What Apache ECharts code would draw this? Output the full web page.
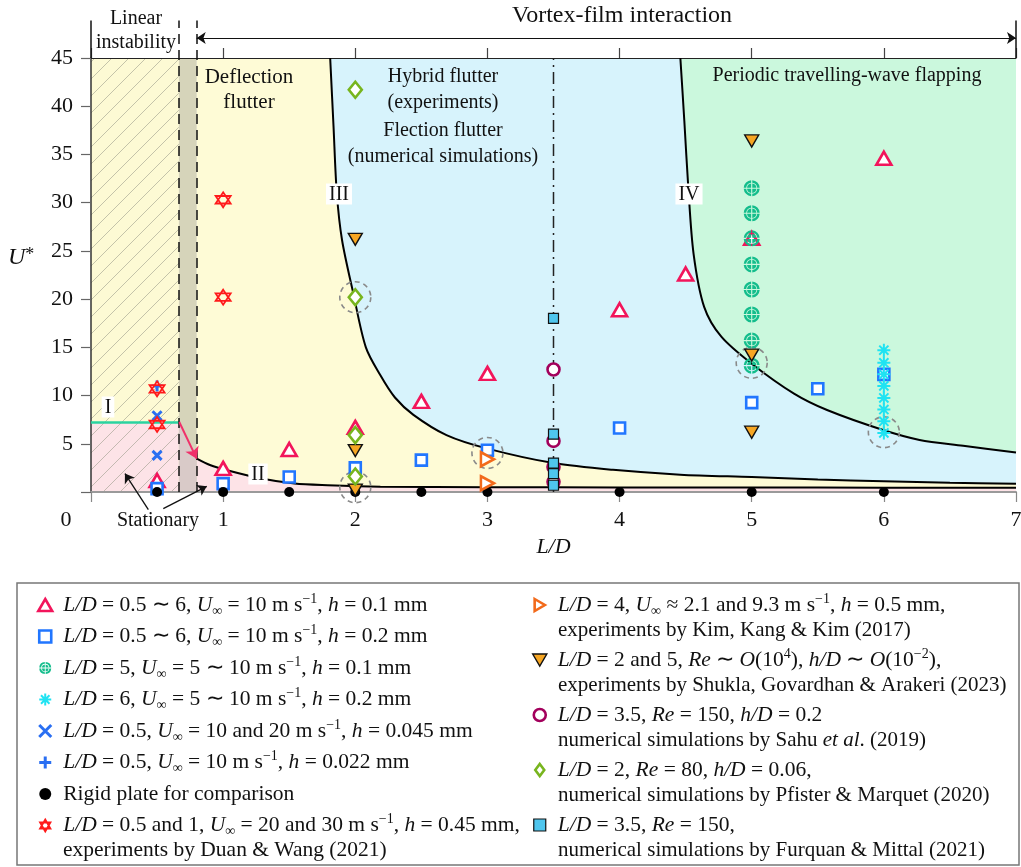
<!DOCTYPE html>
<html><head><meta charset="utf-8">
<script src="https://cdn.jsdelivr.net/npm/echarts/dist/echarts.min.js"></script>
<style>html,body{margin:0;padding:0;background:#fff}#c{width:1021px;height:867px}</style>
</head><body><div id="c"></div>
<script>
// ---------------- data ----------------
const triLD = [0.5, 1, 1.5, 2, 2.5, 3, 4, 4.5, 5, 6];
const triU  = [1.2, 2.45, 4.4, 6.7, 9.4, 12.3, 18.9, 22.6, 26.3, 34.6];
const sqLD = [0.5, 1, 1.5, 2, 2.5, 3, 4, 5, 5.5, 6];
const sqU  = [0.35, 0.87, 1.56, 2.5, 3.3, 4.33, 6.64, 9.27, 10.7, 12.2];
const opLD = [5, 5, 5, 5, 5, 5, 5, 5];
const opU  = [31.5, 28.9, 26.3, 23.6, 21.0, 18.4, 15.7, 13.1];
const astLD = [6, 6, 6, 6, 6, 6, 6, 6];
const astU  = [14.7, 13.4, 12.2, 11.0, 9.75, 8.55, 7.33, 6.12];
const xLD = [0.5, 0.5];
const xU  = [7.9, 3.8];
const plusLD = [0.5];
const plusU  = [11.0];
const rigidLD = [0.5, 1, 1.5, 2, 2.5, 3, 4, 5, 6];
const rigidU  = [0, 0, 0, 0, 0, 0, 0, 0, 0];
const duanLD = [0.5, 0.5, 1, 1];
const duanU  = [10.7, 7.0, 30.3, 20.2];
const kimLD = [3, 3];
const kimU  = [3.4, 0.9];
const shuklaLD = [2, 2, 2, 5, 5, 5];
const shuklaU  = [26.2, 4.3, 0.2, 36.4, 14.2, 6.2];
const sahuLD = [3.5, 3.5, 3.5, 3.5];
const sahuU  = [12.7, 5.3, 2.6, 1.05];
const pfisterLD = [2, 2, 2, 2];
const pfisterU  = [41.7, 20.2, 5.9, 1.6];
const furquanLD = [3.5, 3.5, 3.5, 3.5, 3.5];
const furquanU  = [18.0, 6.0, 3.0, 1.9, 0.7];
const ringLD = [2, 2, 3, 5, 6];
const ringU  = [20.2, 0.5, 4.05, 13.4, 6.2];

// boundary curves
const curveIILD  = [0.8, 0.9, 1.03, 1.29, 1.54, 1.79, 2.19, 3, 4, 5, 6, 7];
const curveIIU   = [3.46, 2.8, 2.25, 1.39, 0.87, 0.7, 0.55, 0.5, 0.47, 0.46, 0.45, 0.45];
const curveIIILD = [1.81, 1.835, 1.86, 1.9, 1.985, 2.08, 2.19, 2.3, 2.44, 2.69, 3.0, 3.5, 3.95, 4.46, 5, 5.5, 6, 6.5, 7];
const curveIIIU  = [45, 38, 31, 26.1, 20.6, 15.0, 12.1, 9.8, 8.0, 5.9, 4.5, 3.0, 2.3, 1.8, 1.55, 1.3, 1.12, 0.97, 0.85];
const curveIVLD  = [4.46, 4.49, 4.52, 4.56, 4.64, 4.77, 5.0, 5.32, 5.57, 6.0, 6.27, 6.6, 7];
const curveIVU   = [45, 38.5, 31.6, 24.7, 19.2, 16.1, 13.3, 10.2, 8.5, 6.4, 5.4, 4.8, 4.1];

// region limits
const linearLD = [0, 0.665];
const bandLD = [0.665, 0.8];
const flutterLD = [0.8, 7];
const topU = [45, 45];
const stationaryU = [7.2, 7.2];
const bandLowU = [7.2, 3.46];

// annotations
const dashedLD = [0.665, 0.8];
const bracketLD = [0, 7];
const bracketU = [45, 48.9];
const arrowU = 47.07;
const dashDotLD = 3.5;
const statFrom = [[0.434, -1.83], [0.547, -1.72]];
const statTo   = [[0.257, 1.91], [0.876, 0.59]];
const redArrow = [[0.668, 7.26], [0.8, 3.46]];

// tick labels
const xTicks = [0, 1, 2, 3, 4, 5, 6, 7];
const yTicks = [0, 5, 10, 15, 20, 25, 30, 35, 40, 45];

const names = [
  'L/D = 0.5 ∼ 6, U∞ = 10 m s−1, h = 0.1 mm',
  'L/D = 0.5 ∼ 6, U∞ = 10 m s−1, h = 0.2 mm',
  'L/D = 5, U∞ = 5 ∼ 10 m s−1, h = 0.1 mm',
  'L/D = 6, U∞ = 5 ∼ 10 m s−1, h = 0.2 mm',
  'L/D = 0.5, U∞ = 10 and 20 m s−1, h = 0.045 mm',
  'L/D = 0.5, U∞ = 10 m s−1, h = 0.022 mm',
  'Rigid plate for comparison',
  'L/D = 0.5 and 1, U∞ = 20 and 30 m s−1, h = 0.45 mm, Duan & Wang (2021)',
  'L/D = 4, U∞ ≈ 2.1 and 9.3 m s−1, h = 0.5 mm, Kim, Kang & Kim (2017)',
  'L/D = 2 and 5, Re ∼ O(10^4), h/D ∼ O(10^−2), Shukla, Govardhan & Arakeri (2023)',
  'L/D = 3.5, Re = 150, h/D = 0.2, Sahu et al. (2019)',
  'L/D = 2, Re = 80, h/D = 0.06, Pfister & Marquet (2020)',
  'L/D = 3.5, Re = 150, Furquan & Mittal (2021)'
];
const legendText = [
  '{i|L/D} = 0.5 ∼ 6, {i|U}{sub|∞} = 10 m s{sup|−1}, {i|h} = 0.1 mm',
  '{i|L/D} = 0.5 ∼ 6, {i|U}{sub|∞} = 10 m s{sup|−1}, {i|h} = 0.2 mm',
  '{i|L/D} = 5, {i|U}{sub|∞} = 5 ∼ 10 m s{sup|−1}, {i|h} = 0.1 mm',
  '{i|L/D} = 6, {i|U}{sub|∞} = 5 ∼ 10 m s{sup|−1}, {i|h} = 0.2 mm',
  '{i|L/D} = 0.5, {i|U}{sub|∞} = 10 and 20 m s{sup|−1}, {i|h} = 0.045 mm',
  '{i|L/D} = 0.5, {i|U}{sub|∞} = 10 m s{sup|−1}, {i|h} = 0.022 mm',
  'Rigid plate for comparison',
  '{i|L/D} = 0.5 and 1, {i|U}{sub|∞} = 20 and 30 m s{sup|−1}, {i|h} = 0.45 mm,',
  '{i|L/D} = 4, {i|U}{sub|∞} ≈ 2.1 and 9.3 m s{sup|−1}, {i|h} = 0.5 mm,',
  '{i|L/D} = 2 and 5, {i|Re} ∼ {i|O}(10{sup|4}), {i|h/D} ∼ {i|O}(10{sup|−2}),',
  '{i|L/D} = 3.5, {i|Re} = 150, {i|h/D} = 0.2',
  '{i|L/D} = 2, {i|Re} = 80, {i|h/D} = 0.06,',
  '{i|L/D} = 3.5, {i|Re} = 150,'
];
const secondLines = [
  'experiments by Duan & Wang (2021)',
  'experiments by Kim, Kang & Kim (2017)',
  'experiments by Shukla, Govardhan & Arakeri (2023)',
  'numerical simulations by Sahu {i|et al}. (2019)',
  'numerical simulations by Pfister & Marquet (2020)',
  'numerical simulations by Furquan & Mittal (2021)'
];

// ---------------- helpers ----------------
const FONT = '"Liberation Serif", "Times New Roman", serif';
const LFS = 21.5;
const SFS = 21;
const pts = (xs, ys) => xs.map((x, i) => [x, ys[i]]);

function oplusPath() {
  const R = 10, r1 = 6.9, r2 = 5.9, g = 0.7;
  const a = Math.sqrt(R*R - g*g), b = Math.sqrt(r1*r1 - g*g), c = Math.sqrt(r2*r2 - g*g);
  let p = '';
  [[1,-1],[1,1],[-1,1],[-1,-1]].forEach(([sx, sy]) => {
    const sw = (sx*sy < 0) ? 1 : 0;
    const f = (x, y) => (10 + sx*x).toFixed(3) + ',' + (10 + sy*y).toFixed(3);
    p += 'M' + f(g, a) + 'A' + R + ',' + R + ' 0 0 ' + sw + ' ' + f(a, g) + 'L' + f(b, g) +
         'A' + r1 + ',' + r1 + ' 0 0 ' + (1 - sw) + ' ' + f(g, b) + 'Z';
    p += 'M' + f(g, c) + 'A' + r2 + ',' + r2 + ' 0 0 ' + sw + ' ' + f(c, g) + 'L' + f(g, g) + 'Z';
  });
  return 'path://' + p;
}
const SYM_OPLUS = oplusPath();
const SYM_TRI = 'path://M10,0L20,17.3L0,17.3Z';
const SYM_RECT = 'path://M0,0L10,0L10,10L0,10Z';
const SYM_DIAM = 'path://M10,0L19,12L10,24L1,12Z';
const SYM_AST = 'path://M10,0L10,20M0,10L20,10M2.93,2.93L17.07,17.07M2.93,17.07L17.07,2.93';
const SYM_X = 'path://M0,0L10,10M0,10L10,0';
const SYM_PLUS = 'path://M5,0L5,10M0,5L10,5';
const SYM_HEX = 'path://M10,0L18.66,15L1.34,15ZM10,20L18.66,5L1.34,5Z';
const SYM_RTRI = 'path://M0,0L17,10L0,20Z';
const SYM_DTRI = 'path://M0,0L20,0L10,17Z';

const markerDefs = [
  {data: pts(triLD, triU), symbol: SYM_TRI, size: [15, 13], style: {color: '#fff', borderColor: '#f2155b', borderWidth: 2.6}},
  {data: pts(sqLD, sqU), symbol: SYM_RECT, size: 11, style: {color: '#fff', borderColor: '#2176ff', borderWidth: 2.6}},
  {data: pts(opLD, opU), symbol: SYM_OPLUS, size: 16, style: {color: '#14bd8c', borderWidth: 0}},
  {data: pts(astLD, astU), symbol: SYM_AST, size: 13, style: {color: '#1fe3f2', borderColor: '#1fe3f2', borderWidth: 2}},
  {data: pts(xLD, xU), symbol: SYM_X, size: 9, style: {color: '#2a6ff2', borderColor: '#2a6ff2', borderWidth: 3}},
  {data: pts(plusLD, plusU), symbol: SYM_PLUS, size: 11, style: {color: '#2a6ff2', borderColor: '#2a6ff2', borderWidth: 3}},
  {data: pts(rigidLD, rigidU), symbol: 'circle', size: 10, style: {color: '#000', borderWidth: 0}},
  {data: pts(duanLD, duanU), symbol: SYM_HEX, size: 15, style: {color: '#fff', borderColor: '#ff1a1a', borderWidth: 1.8}},
  {data: pts(kimLD, kimU), symbol: SYM_RTRI, size: [13, 14], style: {color: '#fff', borderColor: '#f26a1b', borderWidth: 2.6}},
  {data: pts(shuklaLD, shuklaU), symbol: SYM_DTRI, size: [14, 12], style: {color: '#f6a623', borderColor: '#111', borderWidth: 1.4}},
  {data: pts(sahuLD, sahuU), symbol: 'circle', size: 12, style: {color: '#fff', borderColor: '#a3005c', borderWidth: 2.6}},
  {data: pts(pfisterLD, pfisterU), symbol: SYM_DIAM, size: [13, 16], style: {color: '#fff', borderColor: '#78b51e', borderWidth: 2.6}},
  {data: pts(furquanLD, furquanU), symbol: SYM_RECT, size: 10, style: {color: '#4fc6ee', borderColor: '#111', borderWidth: 1.2}}
];

// hatch pattern
const hatch = document.createElement('canvas');
hatch.width = 17; hatch.height = 17;
(function () {
  const c = hatch.getContext('2d');
  c.strokeStyle = 'rgba(150,150,135,0.7)';
  c.lineWidth = 0.8;
  c.beginPath();
  c.moveTo(-1, 18); c.lineTo(18, -1);
  c.moveTo(-1, 1); c.lineTo(1, -1);
  c.moveTo(16, 18); c.lineTo(18, 16);
  c.stroke();
})();

function area(data, color, origin, smooth) {
  return {type: 'line', data, symbol: 'none', silent: true, z: 1, smooth: smooth || false,
    lineStyle: {width: 0, opacity: 0}, areaStyle: {color, opacity: 1, origin}, animation: false};
}
function curve(data, color, width, type, smooth) {
  return {type: 'line', data, symbol: 'none', silent: true, z: 3, smooth: smooth || false, clip: false,
    lineStyle: {color, width, type: type || 'solid'}, animation: false};
}
const SM = 0.3;

const series = [
  area(pts(flutterLD, topU), '#fefbd6', 'start'),
  area(pts(curveIIILD, curveIIIU), '#d7f3fc', 'end', SM),
  area(pts(curveIVLD, curveIVU), '#cbf8dd', 'end', SM),
  area(pts(curveIILD, curveIIU), '#fde3e7', 'start', SM),
  area(pts(linearLD, topU), '#fdfad4', 'start'),
  area(pts(linearLD, stationaryU), '#fde3e7', 'start'),
  area(pts(linearLD, topU), {image: hatch, repeat: 'repeat'}, 'start'),
  area(pts(bandLD, topU), '#d6d4ba', 'start'),
  area(pts(bandLD, bandLowU), '#d9cac8', 'start'),
  curve(pts(curveIILD, curveIIU), '#000', 2, 'solid', SM),
  curve(pts(curveIIILD, curveIIIU), '#000', 2, 'solid', SM),
  curve(pts(curveIVLD, curveIVU), '#000', 2, 'solid', SM),
  curve(pts(linearLD, stationaryU), '#2bd3a0', 2.5),
  curve([[dashDotLD, 0], [dashDotLD, 45]], '#222', 1.5, [12, 5, 2, 5]),
  {type: 'lines', coordinateSystem: 'cartesian2d', clip: false, z: 5, silent: true, symbol: 'none',
   lineStyle: {color: '#111', width: 1.5, opacity: 1},
   data: [
     {coords: [[bracketLD[0], bracketU[0]], [bracketLD[0], bracketU[1]]]},
     {coords: [[bracketLD[1], bracketU[0]], [bracketLD[1], bracketU[1]]]},
     {coords: [[dashedLD[0], 0], [dashedLD[0], bracketU[1]]], lineStyle: {type: [10, 6]}},
     {coords: [[dashedLD[1], 0], [dashedLD[1], bracketU[1]]], lineStyle: {type: [10, 6]}}
   ]},
  {type: 'lines', coordinateSystem: 'cartesian2d', clip: false, z: 5, silent: true,
   symbol: ['arrow', 'arrow'], symbolSize: 9, lineStyle: {color: '#111', width: 1.2, opacity: 1},
   data: [{coords: [[flutterLD[0], arrowU], [flutterLD[1], arrowU]]}]},
  {type: 'lines', coordinateSystem: 'cartesian2d', clip: false, z: 5, silent: true,
   symbol: ['none', 'arrow'], symbolSize: 9, lineStyle: {color: '#111', width: 1.3, opacity: 1},
   data: statFrom.map((f, i) => ({coords: [f, statTo[i]]}))},
  {type: 'lines', coordinateSystem: 'cartesian2d', clip: false, z: 5, silent: true,
   symbol: ['none', 'arrow'], symbolSize: 11, lineStyle: {color: '#f0306a', width: 2, opacity: 1},
   data: [{coords: redArrow}]},
  {type: 'scatter', data: pts(ringLD, ringU), symbol: 'circle', symbolSize: 31, z: 4, silent: true,
   itemStyle: {color: 'rgba(0,0,0,0)', borderColor: '#8a8a8a', borderWidth: 1.6, borderType: [5, 4], opacity: 1}}
];
markerDefs.forEach((m, i) => {
  series.push({type: 'scatter', name: names[i], data: m.data, symbol: m.symbol, symbolSize: m.size,
    z: 4 + i * 0.01, silent: true, itemStyle: Object.assign({opacity: 1}, m.style), animation: false});
});

const richDef = {
  i: {fontFamily: FONT, fontStyle: 'italic', fontSize: LFS, lineHeight: 26, color: '#111'},
  sub: {fontFamily: FONT, fontSize: 14, lineHeight: 15, verticalAlign: 'bottom', color: '#111'},
  sup: {fontFamily: FONT, fontSize: 14, lineHeight: 15, verticalAlign: 'top', color: '#111'}
};
function legendItems(from, to) {
  const out = [];
  for (let i = from; i < to; i++) {
    const m = markerDefs[i];
    out.push({name: names[i], icon: m.symbol, itemStyle: Object.assign({opacity: 1}, m.style)});
  }
  return out;
}
const legendBase = {
  orient: 'vertical', itemWidth: 26, itemHeight: 12, padding: 0, selectedMode: false,
  formatter: n => legendText[names.indexOf(n)],
  textStyle: {fontFamily: FONT, fontSize: LFS, color: '#111', lineHeight: 26, rich: richDef}
};

function txt(x, y, text, size, opts) {
  return Object.assign({type: 'text', x, y, z: 20, silent: true,
    style: Object.assign({text, fontFamily: FONT, fontSize: size, fill: '#111', align: 'center', verticalAlign: 'middle',
      rich: {i: {fontFamily: FONT, fontStyle: 'italic', fontSize: size, fill: '#111'},
             s: {fontFamily: FONT, fontSize: Math.round(size * 0.75), fill: '#111', verticalAlign: 'top', lineHeight: 14}}},
      (opts || {}))});
}
const boxed = {backgroundColor: '#fff', padding: [1, 3, 0, 3]};

const graphic = [
  {type: 'rect', z: 20, silent: true, shape: {x: 17, y: 583, width: 1002, height: 282},
   style: {fill: 'none', stroke: '#777', lineWidth: 1.5}},
  txt(63, 850, secondLines[0], LFS, {align: 'left'}),
  txt(558, 630, secondLines[1], SFS, {align: 'left'}),
  txt(558, 685, secondLines[2], SFS, {align: 'left'}),
  txt(558, 740, secondLines[3], SFS, {align: 'left'}),
  txt(558, 795, secondLines[4], SFS, {align: 'left'}),
  txt(558, 850, secondLines[5], SFS, {align: 'left'}),
  txt(66, 520, String(xTicks[0]), 22),
  txt(8, 258, '{i|U}{s|*}', 24, {align: 'left'}),
  txt(136, 19, 'Linear', 20),
  txt(136, 43, 'instability', 20),
  txt(622, 16, 'Vortex-film interaction', 24),
  txt(249, 77, 'Deflection', 21),
  txt(249, 102, 'flutter', 21),
  txt(443, 77, 'Hybrid flutter', 20),
  txt(443, 103, '(experiments)', 20),
  txt(443, 131, 'Flection flutter', 20),
  txt(443, 157, '(numerical simulations)', 20),
  txt(847, 76, 'Periodic travelling-wave flapping', 20),
  txt(158, 521, 'Stationary', 20),
  txt(108, 407, 'I', 20, boxed),
  txt(258, 474, 'II', 20, boxed),
  txt(339, 194, 'III', 20, boxed),
  txt(689, 194, 'IV', 20, boxed)
];

const axisLabelStyle = {fontFamily: FONT, fontSize: 22, color: '#111'};
const option = {
  animation: false,
  backgroundColor: '#fff',
  textStyle: {fontFamily: FONT},
  grid: {left: 91, right: 5, top: 58, bottom: 375, containLabel: false, outerBoundsMode: 'none'},
  xAxis: [
    {type: 'value', min: xTicks[0], max: xTicks[xTicks.length - 1], interval: 1, position: 'bottom', z: 2,
     axisLine: {show: true, onZero: false, lineStyle: {color: '#9a9a9a', width: 2}},
     axisTick: {show: true, length: 10, lineStyle: {color: '#888', width: 1.2}},
     axisLabel: Object.assign({margin: 17, formatter: v => (v === xTicks[0] ? '' : String(v))}, axisLabelStyle),
     splitLine: {show: false},
     name: 'L/D', nameLocation: 'middle', nameGap: 44,
     nameTextStyle: {fontFamily: FONT, fontSize: 22, fontStyle: 'italic', color: '#111'}},
    {type: 'value', min: xTicks[0], max: xTicks[xTicks.length - 1], interval: 1, position: 'top', z: 2,
     axisLine: {show: true, onZero: false, lineStyle: {color: '#222', width: 1.2}},
     axisTick: {show: true, length: 10, lineStyle: {color: '#444', width: 1.2}},
     axisLabel: {show: false}, splitLine: {show: false}}
  ],
  yAxis: {type: 'value', min: yTicks[0], max: yTicks[yTicks.length - 1], interval: 5, z: 2,
    axisLine: {show: true, onZero: false, lineStyle: {color: '#333', width: 1.5}},
    axisTick: {show: true, length: 10, lineStyle: {color: '#666', width: 1.2}},
    axisLabel: Object.assign({margin: 18, formatter: v => (v === yTicks[0] ? '' : String(v))}, axisLabelStyle),
    splitLine: {show: false}},
  legend: [
    Object.assign({}, legendBase, {left: 37, top: 592, itemGap: 5.5, data: legendItems(0, 8)}),
    Object.assign({}, legendBase, {left: 532, top: 592, itemGap: 29, data: legendItems(8, 13)})
  ],
  series,
  graphic
};

const chart = echarts.init(document.getElementById('c'), null, {renderer: 'canvas'});
chart.setOption(option);
</script></body></html>
